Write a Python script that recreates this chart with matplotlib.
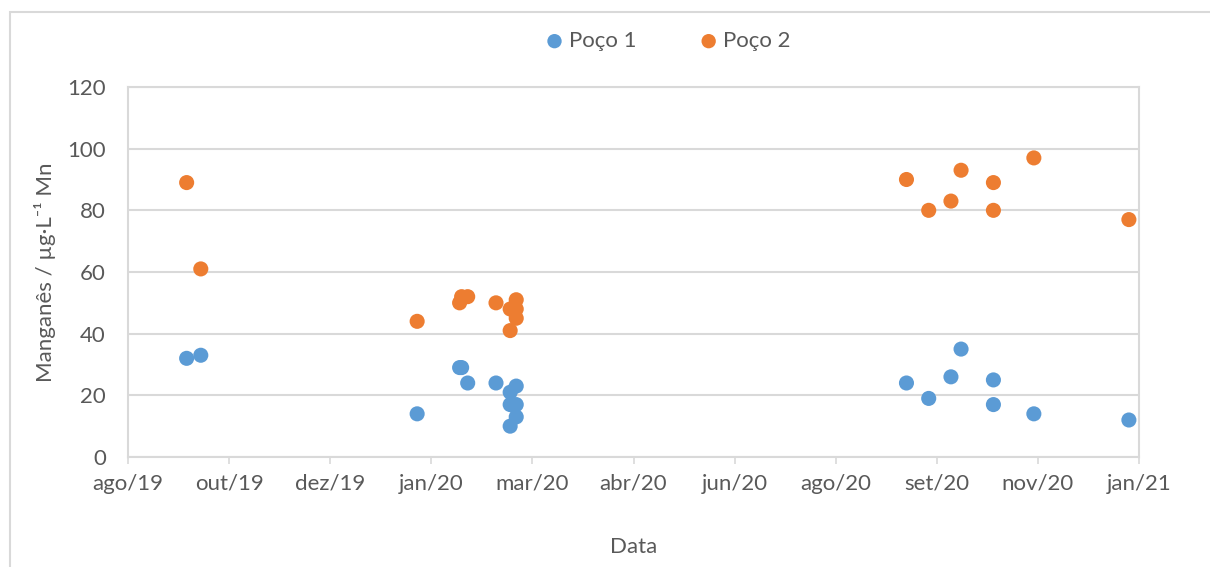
import datetime as dt
import numpy as np
import matplotlib
matplotlib.use("Agg")
import matplotlib.pyplot as plt
from matplotlib.patches import Rectangle

plt.rcParams['font.family'] = ['Lato', 'DejaVu Sans']

# sampling dates and manganese concentrations (ug/L Mn)
dates_p1 = ['2019-09-22', '2019-09-29', '2020-01-14', '2020-02-04', '2020-02-05',
            '2020-02-08', '2020-02-22', '2020-03-03', '2020-02-29', '2020-02-29',
            '2020-03-03', '2020-03-03', '2020-02-29',
            '2020-09-12', '2020-09-23', '2020-10-04', '2020-10-09', '2020-10-25',
            '2020-10-25', '2020-11-14', '2020-12-31']
mn_p1 = [32, 33, 14, 29, 29, 24, 24, 23, 21, 17, 17, 13, 10,
         24, 19, 26, 35, 25, 17, 14, 12]

dates_p2 = ['2019-09-22', '2019-09-29', '2020-01-14', '2020-02-04', '2020-02-05',
            '2020-02-08', '2020-02-22', '2020-03-03', '2020-02-29', '2020-03-03',
            '2020-03-03', '2020-02-29',
            '2020-09-12', '2020-09-23', '2020-10-04', '2020-10-09', '2020-10-25',
            '2020-10-25', '2020-11-14', '2020-12-31']
mn_p2 = [89, 61, 44, 50, 52, 52, 50, 51, 48, 48, 45, 41,
         90, 80, 83, 93, 89, 80, 97, 77]

x_start = dt.date(2019, 8, 24)
x_step = 50
tick_labels = ['ago/19', 'out/19', 'dez/19', 'jan/20', 'mar/20', 'abr/20',
               'jun/20', 'ago/20', 'set/20', 'nov/20', 'jan/21']

blue = '#5b9bd5'
orange = '#ed7d31'
grid = '#d9d9d9'
txt = '#595959'

fig = plt.figure(figsize=(12.1, 5.67), dpi=100)
ax = fig.add_axes([128 / 1210, 1 - 457 / 567, (1139 - 128) / 1210, (457 - 87) / 567])

d1 = [dt.date.fromisoformat(d) for d in dates_p1]
d2 = [dt.date.fromisoformat(d) for d in dates_p2]
ax.scatter(d1, mn_p1, s=118, color=blue, edgecolors='none', label='Poço 1', zorder=3)
ax.scatter(d2, mn_p2, s=118, color=orange, edgecolors='none', label='Poço 2', zorder=3)

ticks = [x_start + dt.timedelta(days=x_step * i) for i in range(len(tick_labels))]
ax.set_xlim(ticks[0], ticks[-1])
ax.set_xticks(ticks)
ax.set_xticklabels(tick_labels)
ax.set_ylim(0, 120)
ax.set_yticks(np.arange(0, 121, 20))

ax.grid(axis='y', color=grid, linewidth=1.5)
ax.set_axisbelow(True)
for sp in ax.spines.values():
    sp.set_color(grid)
    sp.set_linewidth(1.5)
ax.tick_params(axis='y', length=0, pad=16, labelsize=16, labelcolor=txt)
ax.tick_params(axis='x', length=5, color=grid, width=1.2, pad=7, labelsize=16, labelcolor=txt)

ax.set_xlabel('Data', fontsize=16, color=txt, labelpad=31)
ax.set_ylabel('Manganês / µg·L⁻¹ Mn', fontsize=16, color=txt, labelpad=8)

ax.legend(loc='center', bbox_to_anchor=(667 / 1210, 1 - 41 / 567),
          bbox_transform=fig.transFigure, ncol=2, frameon=False, fontsize=16,
          labelcolor=txt, handlelength=1.0, handletextpad=0.15,
          columnspacing=2.75, markerscale=0.95)

# chart area border
fig.add_artist(Rectangle((9.5 / 1210, -0.1), 1.2, 1.1 - 11.5 / 567,
                         transform=fig.transFigure, fill=False,
                         edgecolor=grid, linewidth=1.5))

fig.savefig('out.png', dpi=100)
